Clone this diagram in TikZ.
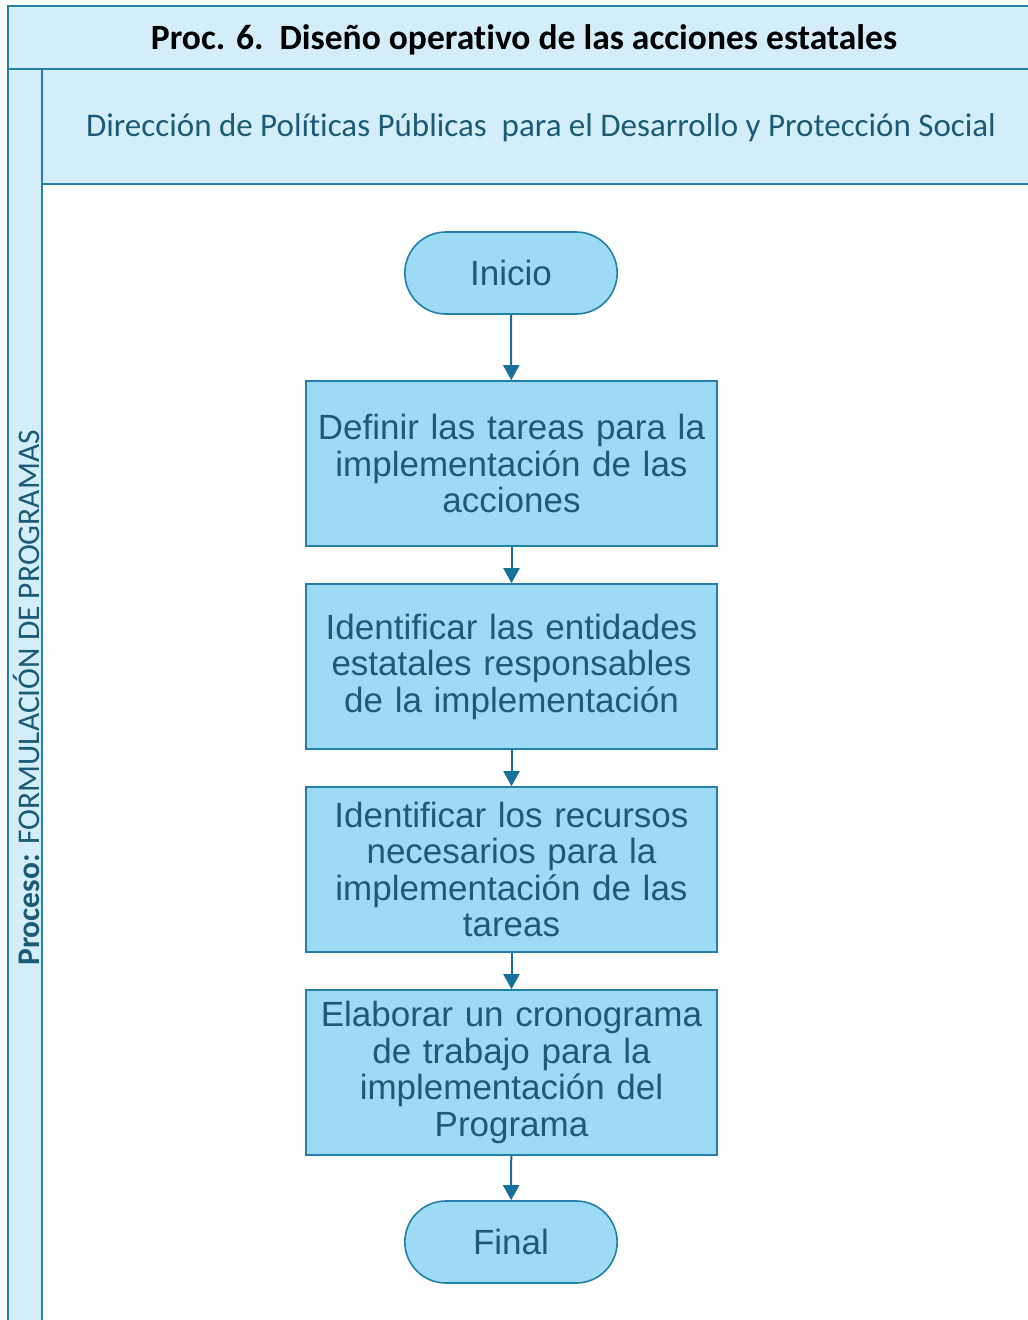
\documentclass[tikz,border=0pt]{standalone}
\usepackage{fontspec}
\setmainfont{Liberation Sans}
\newfontfamily\calibri[Ligatures=NoCommon]{Carlito}
\usetikzlibrary{shapes.misc,arrows.meta}
\definecolor{laneblue}{HTML}{D3EEF8}
\definecolor{boxblue}{HTML}{9CDBF3}
\definecolor{edgeblue}{HTML}{2381A8}
\definecolor{inkblue}{HTML}{1B5B77}
\definecolor{arrowblue}{HTML}{17709A}
\tikzset{
  procbox/.style={draw=edgeblue, line width=1.6pt, fill=boxblue, minimum width=411pt, minimum height=165pt,
    text width=405pt, align=center, inner sep=0pt, font=\fontsize{35}{36.5}\selectfont, text=inkblue},
  terminal/.style={draw=edgeblue, line width=1.6pt, fill=boxblue, rounded rectangle, minimum width=219pt,
    minimum height=82pt, font=\fontsize{35}{36.5}\selectfont, text=inkblue},
  flow/.style={draw=arrowblue, line width=2pt, -{Triangle[width=16pt,length=15pt]}},
  frameline/.style={draw=edgeblue, line width=2pt}
}
\begin{document}
\begin{tikzpicture}[x=1pt,y=-1pt]
\useasboundingbox (0,0) rectangle (1028,1320);
% pool and lane
\fill[white] (0,0) rectangle (1028,1320);
\fill[laneblue] (8,6) rectangle (1040,69);
\fill[laneblue] (8,69) rectangle (42,1330);
\fill[laneblue] (42,69) rectangle (1040,184);
\draw[frameline] (1040,6) -- (8,6) -- (8,1330);
\draw[frameline] (8,69) -- (1040,69);
\draw[frameline] (42,69) -- (42,1330);
\draw[frameline] (42,184) -- (1040,184);
\node[font=\calibri\bfseries\fontsize{35.5}{40}\selectfont, text=black] (titulo) at (524,40) {Proc. 6.\ \ Diseño operativo de las acciones estatales};
\node[font=\calibri\fontsize{33}{38}\selectfont, text=inkblue] (direccion) at (541,128) {Dirección de Políticas Públicas\ \ para el Desarrollo y Protección Social};
\node[rotate=90, font=\calibri\fontsize{31.5}{36}\selectfont, text=inkblue] (proceso) at (26,698) {\textbf{Proceso:} FORMULACIÓN DE PROGRAMAS};
% flow
\node[terminal] (inicio) at (511,273) {Inicio};
\node[procbox] (tareas) at (511.5,463.5) {Definir las tareas para la\\implementación de las\\acciones};
\node[procbox] (entidades) at (511.5,666.5) {Identificar las entidades\\estatales responsables\\de la implementación};
\node[procbox] (recursos) at (511.5,869.5) {Identificar los recursos\\necesarios para la\\implementación de las\\tareas};
\node[procbox] (crono) at (511.5,1072.5) {Elaborar un cronograma\\de trabajo para la\\implementación del\\Programa};
\node[terminal] (final) at (511,1242) {Final};
\draw[flow] (inicio) -- (tareas);
\draw[flow] (tareas) -- (entidades);
\draw[flow] (entidades) -- (recursos);
\draw[flow] (recursos) -- (crono);
\draw[flow] (crono) -- (final);
\end{tikzpicture}
\end{document}
